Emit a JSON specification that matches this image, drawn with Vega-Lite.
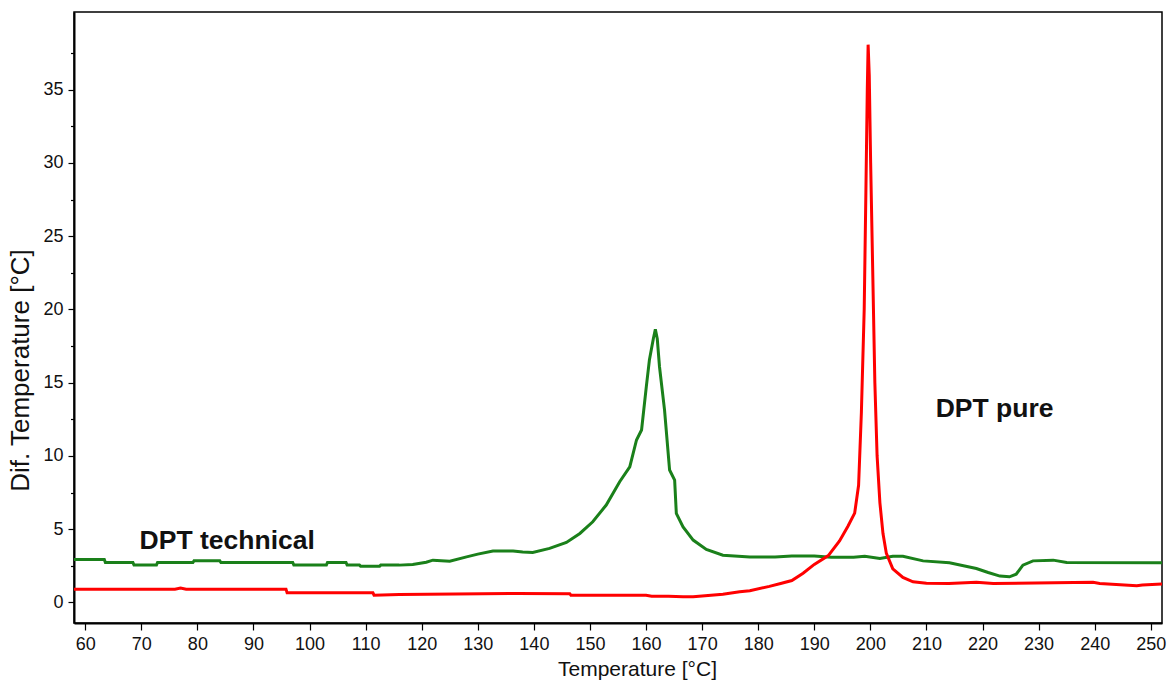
{
  "$schema": "https://vega.github.io/schema/vega-lite/v6.json",
  "width": 1088,
  "height": 611,
  "autosize": {"type": "none"},
  "padding": {"left": 74, "top": 12, "right": 9, "bottom": 64},
  "background": "white",
  "config": {
    "view": {"stroke": "black", "strokeWidth": 1.5},
    "axis": {
      "grid": false,
      "domainColor": "black",
      "domainWidth": 2,
      "tickColor": "black",
      "tickWidth": 1.2,
      "labelFont": "Liberation Sans",
      "labelFontSize": 18,
      "labelColor": "#111111",
      "labelPadding": 5,
      "labelOverlap": false,
      "titleFont": "Liberation Sans",
      "titleFontWeight": "normal",
      "titleColor": "#111111"
    }
  },
  "datasets": {
    "curves": [
      {"series": "DPT technical", "t": 58, "v": 2.94},
      {"series": "DPT technical", "t": 63.4, "v": 2.94},
      {"series": "DPT technical", "t": 63.6, "v": 2.73},
      {"series": "DPT technical", "t": 68.5, "v": 2.73},
      {"series": "DPT technical", "t": 68.7, "v": 2.55},
      {"series": "DPT technical", "t": 72.7, "v": 2.55},
      {"series": "DPT technical", "t": 72.9, "v": 2.73},
      {"series": "DPT technical", "t": 79.2, "v": 2.73},
      {"series": "DPT technical", "t": 79.4, "v": 2.84},
      {"series": "DPT technical", "t": 84.0, "v": 2.84},
      {"series": "DPT technical", "t": 84.2, "v": 2.73},
      {"series": "DPT technical", "t": 97.0, "v": 2.73},
      {"series": "DPT technical", "t": 97.2, "v": 2.55},
      {"series": "DPT technical", "t": 103.0, "v": 2.55},
      {"series": "DPT technical", "t": 103.2, "v": 2.73},
      {"series": "DPT technical", "t": 106.5, "v": 2.73},
      {"series": "DPT technical", "t": 106.7, "v": 2.55},
      {"series": "DPT technical", "t": 108.9, "v": 2.55},
      {"series": "DPT technical", "t": 109.1, "v": 2.48},
      {"series": "DPT technical", "t": 112.5, "v": 2.48},
      {"series": "DPT technical", "t": 112.7, "v": 2.55},
      {"series": "DPT technical", "t": 116, "v": 2.55},
      {"series": "DPT technical", "t": 118.4, "v": 2.6},
      {"series": "DPT technical", "t": 120.8, "v": 2.75},
      {"series": "DPT technical", "t": 122, "v": 2.89},
      {"series": "DPT technical", "t": 125, "v": 2.82},
      {"series": "DPT technical", "t": 128, "v": 3.11},
      {"series": "DPT technical", "t": 130, "v": 3.3},
      {"series": "DPT technical", "t": 132.7, "v": 3.52},
      {"series": "DPT technical", "t": 136.3, "v": 3.52},
      {"series": "DPT technical", "t": 138, "v": 3.45},
      {"series": "DPT technical", "t": 139.8, "v": 3.42},
      {"series": "DPT technical", "t": 142.8, "v": 3.69},
      {"series": "DPT technical", "t": 145.8, "v": 4.10},
      {"series": "DPT technical", "t": 148.2, "v": 4.71},
      {"series": "DPT technical", "t": 150.5, "v": 5.51},
      {"series": "DPT technical", "t": 152.9, "v": 6.65},
      {"series": "DPT technical", "t": 155.3, "v": 8.24},
      {"series": "DPT technical", "t": 157.1, "v": 9.26},
      {"series": "DPT technical", "t": 158.3, "v": 11.09},
      {"series": "DPT technical", "t": 159.2, "v": 11.77},
      {"series": "DPT technical", "t": 160.05, "v": 14.73},
      {"series": "DPT technical", "t": 160.6, "v": 16.55},
      {"series": "DPT technical", "t": 161.3, "v": 18.0},
      {"series": "DPT technical", "t": 161.66, "v": 18.65},
      {"series": "DPT technical", "t": 162.0, "v": 18.0},
      {"series": "DPT technical", "t": 162.4, "v": 16.09},
      {"series": "DPT technical", "t": 163.3, "v": 13.13},
      {"series": "DPT technical", "t": 164.2, "v": 9.04},
      {"series": "DPT technical", "t": 165.1, "v": 8.35},
      {"series": "DPT technical", "t": 165.4, "v": 6.08},
      {"series": "DPT technical", "t": 166.6, "v": 5.16},
      {"series": "DPT technical", "t": 168.4, "v": 4.26},
      {"series": "DPT technical", "t": 170.75, "v": 3.62},
      {"series": "DPT technical", "t": 173.7, "v": 3.23},
      {"series": "DPT technical", "t": 178.5, "v": 3.11},
      {"series": "DPT technical", "t": 183, "v": 3.11},
      {"series": "DPT technical", "t": 186, "v": 3.18},
      {"series": "DPT technical", "t": 190, "v": 3.18},
      {"series": "DPT technical", "t": 193, "v": 3.08},
      {"series": "DPT technical", "t": 197, "v": 3.08},
      {"series": "DPT technical", "t": 199, "v": 3.15},
      {"series": "DPT technical", "t": 201.7, "v": 3.0},
      {"series": "DPT technical", "t": 204.0, "v": 3.16},
      {"series": "DPT technical", "t": 205.8, "v": 3.16},
      {"series": "DPT technical", "t": 209.4, "v": 2.84},
      {"series": "DPT technical", "t": 214.1, "v": 2.71},
      {"series": "DPT technical", "t": 218.9, "v": 2.32},
      {"series": "DPT technical", "t": 221, "v": 2.05},
      {"series": "DPT technical", "t": 223.1, "v": 1.80},
      {"series": "DPT technical", "t": 224.8, "v": 1.75},
      {"series": "DPT technical", "t": 226.0, "v": 1.93},
      {"series": "DPT technical", "t": 227.2, "v": 2.55},
      {"series": "DPT technical", "t": 229.0, "v": 2.84},
      {"series": "DPT technical", "t": 232.6, "v": 2.89},
      {"series": "DPT technical", "t": 235.0, "v": 2.73},
      {"series": "DPT technical", "t": 252, "v": 2.71},
      {"series": "DPT pure", "t": 58, "v": 0.91},
      {"series": "DPT pure", "t": 76, "v": 0.91},
      {"series": "DPT pure", "t": 77, "v": 0.99},
      {"series": "DPT pure", "t": 78, "v": 0.91},
      {"series": "DPT pure", "t": 95.8, "v": 0.91},
      {"series": "DPT pure", "t": 96, "v": 0.66},
      {"series": "DPT pure", "t": 111.3, "v": 0.66},
      {"series": "DPT pure", "t": 111.5, "v": 0.5},
      {"series": "DPT pure", "t": 116, "v": 0.55},
      {"series": "DPT pure", "t": 126, "v": 0.58},
      {"series": "DPT pure", "t": 137, "v": 0.61},
      {"series": "DPT pure", "t": 146.4, "v": 0.6},
      {"series": "DPT pure", "t": 146.6, "v": 0.5},
      {"series": "DPT pure", "t": 160, "v": 0.5},
      {"series": "DPT pure", "t": 161, "v": 0.43},
      {"series": "DPT pure", "t": 164, "v": 0.43},
      {"series": "DPT pure", "t": 166.6, "v": 0.39},
      {"series": "DPT pure", "t": 168.4, "v": 0.39},
      {"series": "DPT pure", "t": 170, "v": 0.45},
      {"series": "DPT pure", "t": 173.7, "v": 0.57},
      {"series": "DPT pure", "t": 176.7, "v": 0.73},
      {"series": "DPT pure", "t": 178.5, "v": 0.8},
      {"series": "DPT pure", "t": 182, "v": 1.1},
      {"series": "DPT pure", "t": 184, "v": 1.3},
      {"series": "DPT pure", "t": 186, "v": 1.5},
      {"series": "DPT pure", "t": 188, "v": 2.0},
      {"series": "DPT pure", "t": 190, "v": 2.6},
      {"series": "DPT pure", "t": 192.5, "v": 3.2},
      {"series": "DPT pure", "t": 194.5, "v": 4.2},
      {"series": "DPT pure", "t": 196, "v": 5.2},
      {"series": "DPT pure", "t": 197.2, "v": 6.1},
      {"series": "DPT pure", "t": 197.9, "v": 8.0},
      {"series": "DPT pure", "t": 198.4, "v": 13},
      {"series": "DPT pure", "t": 198.9, "v": 20},
      {"series": "DPT pure", "t": 199.2, "v": 28},
      {"series": "DPT pure", "t": 199.45, "v": 35},
      {"series": "DPT pure", "t": 199.6, "v": 38.07},
      {"series": "DPT pure", "t": 199.8, "v": 36},
      {"series": "DPT pure", "t": 200.05, "v": 30},
      {"series": "DPT pure", "t": 200.4, "v": 23},
      {"series": "DPT pure", "t": 200.8, "v": 15},
      {"series": "DPT pure", "t": 201.2, "v": 10},
      {"series": "DPT pure", "t": 201.7, "v": 6.8},
      {"series": "DPT pure", "t": 202.25, "v": 4.7},
      {"series": "DPT pure", "t": 202.85, "v": 3.35},
      {"series": "DPT pure", "t": 204, "v": 2.3},
      {"series": "DPT pure", "t": 205.8, "v": 1.71},
      {"series": "DPT pure", "t": 207.6, "v": 1.41},
      {"series": "DPT pure", "t": 210, "v": 1.32},
      {"series": "DPT pure", "t": 214, "v": 1.30},
      {"series": "DPT pure", "t": 218.9, "v": 1.38},
      {"series": "DPT pure", "t": 221.9, "v": 1.30},
      {"series": "DPT pure", "t": 239.7, "v": 1.38},
      {"series": "DPT pure", "t": 240.9, "v": 1.30},
      {"series": "DPT pure", "t": 247.5, "v": 1.15},
      {"series": "DPT pure", "t": 248.5, "v": 1.2},
      {"series": "DPT pure", "t": 252, "v": 1.27}
    ],
    "labels": [
      {"label": "DPT technical", "t": 69.7, "v": 4.19},
      {"label": "DPT pure", "t": 211.65, "v": 13.2}
    ]
  },
  "layer": [
    {
      "data": {"name": "curves"},
      "mark": {"type": "line", "strokeWidth": 3, "interpolate": "linear", "clip": true},
      "encoding": {
        "x": {
          "field": "t",
          "type": "quantitative",
          "scale": {"domain": [58, 252], "nice": false, "zero": false},
          "axis": {
            "title": "Temperature [°C]",
            "titleFontSize": 21,
            "titleX": 563,
            "titleY": 46,
            "titleBaseline": "middle",
            "titleAnchor": "middle",
            "values": [60,65,70,75,80,85,90,95,100,105,110,115,120,125,130,135,140,145,150,155,160,165,170,175,180,185,190,195,200,205,210,215,220,225,230,235,240,245,250],
            "labelExpr": "datum.value % 10 === 0 ? datum.label : ''",
            "tickSize": {"condition": {"test": "datum.value % 10 === 0", "value": 7}, "value": 4}
          }
        },
        "y": {
          "field": "v",
          "type": "quantitative",
          "scale": {"domain": [-1.4, 40.3], "nice": false, "zero": false},
          "axis": {
            "title": "Dif. Temperature [°C]",
            "titleFontSize": 26,
            "titleX": -54,
            "titleY": 358,
            "titleBaseline": "middle",
            "titleAnchor": "middle",
            "values": [0,2.5,5,7.5,10,12.5,15,17.5,20,22.5,25,27.5,30,32.5,35,37.5],
            "labelExpr": "datum.value % 5 === 0 ? datum.label : ''",
            "tickSize": {"condition": {"test": "datum.value % 5 === 0", "value": 6}, "value": 3.5}
          }
        },
        "color": {
          "field": "series",
          "type": "nominal",
          "scale": {"domain": ["DPT technical", "DPT pure"], "range": ["#1a801a", "#ff0000"]},
          "legend": null
        }
      }
    },
    {
      "data": {"name": "labels"},
      "mark": {"type": "text", "font": "Liberation Sans", "fontWeight": "bold", "fontSize": 26.5, "align": "left", "baseline": "middle", "color": "#111111"},
      "encoding": {
        "x": {"field": "t", "type": "quantitative"},
        "y": {"field": "v", "type": "quantitative"},
        "text": {"field": "label", "type": "nominal"}
      }
    }
  ]
}
